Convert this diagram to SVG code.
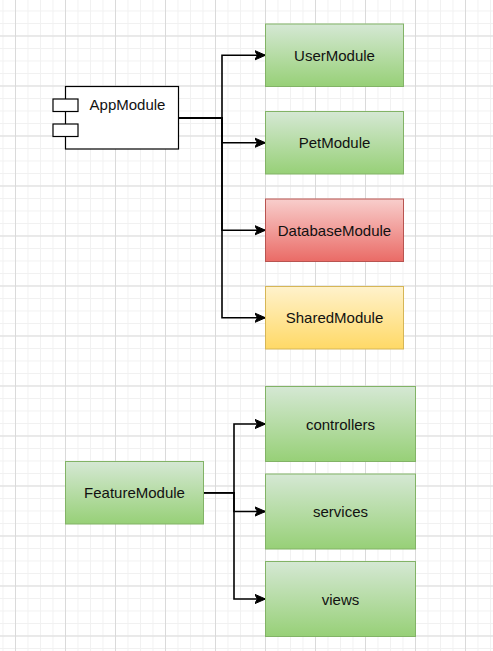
<svg xmlns="http://www.w3.org/2000/svg" width="493" height="651" viewBox="0 0 493 651">
<style>
.lbl{font-family:"Liberation Sans",Arial,sans-serif;font-size:15px;fill:#111;text-anchor:middle;dominant-baseline:central}
.conn{fill:none;stroke:#000;stroke-width:1.6;marker-end:url(#arr)}
.green{fill:url(#gGreen);stroke:#82b366;stroke-width:1}
.red{fill:url(#gRed);stroke:#b85450;stroke-width:1}
.yellow{fill:url(#gYellow);stroke:#d6b656;stroke-width:1}
</style>
<defs>
<pattern id="minor" patternUnits="userSpaceOnUse" x="2.5" y="10.5" width="12.5" height="12.5">
<rect x="0" y="0" width="1" height="12.5" fill="#f1f1f1"/>
<rect x="0" y="0" width="12.5" height="1" fill="#f1f1f1"/>
</pattern>
<pattern id="major" patternUnits="userSpaceOnUse" x="15" y="35.5" width="50" height="50">
<rect x="0" y="0" width="1" height="50" fill="#dadada"/>
<rect x="0" y="0" width="50" height="1" fill="#dadada"/>
</pattern>
<linearGradient id="gGreen" x1="0" y1="0" x2="0" y2="1">
<stop offset="0" stop-color="#d5e8d4"/><stop offset="1" stop-color="#97d077"/>
</linearGradient>
<linearGradient id="gRed" x1="0" y1="0" x2="0" y2="1">
<stop offset="0" stop-color="#f8cecc"/><stop offset="1" stop-color="#ea6b66"/>
</linearGradient>
<linearGradient id="gYellow" x1="0" y1="0" x2="0" y2="1">
<stop offset="0" stop-color="#fff2cc"/><stop offset="1" stop-color="#ffd966"/>
</linearGradient>
<marker id="arr" markerUnits="userSpaceOnUse" viewBox="-11 -6 12 12" refX="0" refY="0" markerWidth="12" markerHeight="12" orient="auto">
<path d="M0,0 L-11,-4.8 L-8,0 L-11,4.8 Z" fill="#000" stroke="#000" stroke-width="1"/>
</marker>
</defs>
<rect width="493" height="651" fill="#fff"/>
<rect width="493" height="651" fill="url(#minor)"/>
<rect width="493" height="651" fill="url(#major)"/>

<g id="connectors">
<path class="conn" d="M178.5 117.9 H222 V55.25 H265.5"/>
<path class="conn" d="M178.5 117.9 H222 V142.75 H265.5"/>
<path class="conn" d="M178.5 117.9 H222 V230.25 H265.5"/>
<path class="conn" d="M178.5 117.9 H222 V317.75 H265.5"/>
<path class="conn" d="M203.5 492.75 H234 V424 H265.5"/>
<path class="conn" d="M203.5 492.75 H234 V511.5 H265.5"/>
<path class="conn" d="M203.5 492.75 H234 V599 H265.5"/>
</g>

<g id="AppModule">
<rect x="65.5" y="86.5" width="113" height="62.5" fill="#fff" stroke="#000" stroke-width="1.2"/>
<rect x="53" y="99" width="25" height="12.5" fill="#fff" stroke="#000" stroke-width="1.2"/>
<rect x="53" y="124" width="25" height="12.5" fill="#fff" stroke="#000" stroke-width="1.2"/>
<text class="lbl" x="127.5" y="104">AppModule</text>
</g>
<g id="UserModule">
<rect class="green" x="265.5" y="24" width="138" height="62.5"/>
<text class="lbl" x="334.5" y="55.25">UserModule</text>
</g>
<g id="PetModule">
<rect class="green" x="265.5" y="111.5" width="138" height="62.5"/>
<text class="lbl" x="334.5" y="142.75">PetModule</text>
</g>
<g id="DatabaseModule">
<rect class="red" x="265.5" y="199" width="138" height="62.5"/>
<text class="lbl" x="334.5" y="230.25">DatabaseModule</text>
</g>
<g id="SharedModule">
<rect class="yellow" x="265.5" y="286.5" width="138" height="62.5"/>
<text class="lbl" x="334.5" y="317.75">SharedModule</text>
</g>

<g id="FeatureModule">
<rect class="green" x="65.5" y="461.5" width="138" height="62.5"/>
<text class="lbl" x="134.5" y="492.75">FeatureModule</text>
</g>
<g id="controllers">
<rect class="green" x="265.5" y="386.5" width="150" height="75"/>
<text class="lbl" x="340.5" y="424">controllers</text>
</g>
<g id="services">
<rect class="green" x="265.5" y="474" width="150" height="75"/>
<text class="lbl" x="340.5" y="511.5">services</text>
</g>
<g id="views">
<rect class="green" x="265.5" y="561.5" width="150" height="75"/>
<text class="lbl" x="340.5" y="599">views</text>
</g>
</svg>
